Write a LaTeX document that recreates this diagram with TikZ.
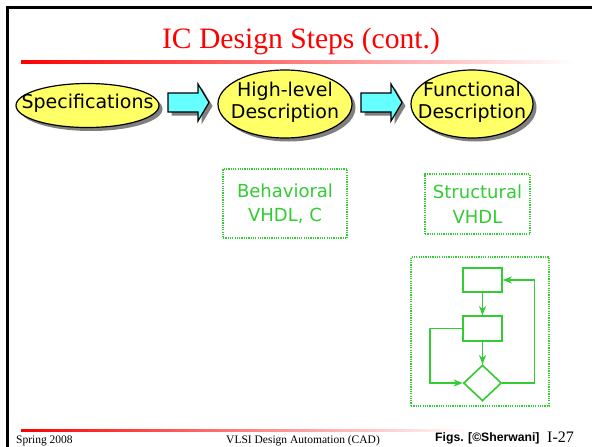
\documentclass[tikz,border=0pt]{standalone}
\usepackage{fontspec}
\setmainfont{Liberation Serif}
\newfontfamily\labelfont{DejaVu Sans}
\newfontfamily\figsfont{Liberation Sans}
\usetikzlibrary{shapes.geometric,arrows.meta,shadows}

\definecolor{titlered}{RGB}{255,0,0}
\definecolor{bubble}{RGB}{255,255,102}
\definecolor{arrowcyan}{RGB}{102,255,255}
\definecolor{flowgreen}{RGB}{51,204,51}
\definecolor{shadowgray}{RGB}{128,128,128}

% wide cyan block arrow centred on a coordinate, with its grey shadow
\newcommand\blockarrow[1]{%
  \fill[shadowgray, shift={(#1)}, shift={(3.5,3.5)}]
    (-20.5,-9.5) -- (9.5,-9.5) -- (9.5,-18.5) -- (20.5,0) -- (9.5,18.5) -- (9.5,9.5) -- (-20.5,9.5) -- cycle;
  \draw[fill=arrowcyan, line width=1.2pt, line join=miter, shift={(#1)}]
    (-20.5,-9.5) -- (9.5,-9.5) -- (9.5,-18.5) -- (20.5,0) -- (9.5,18.5) -- (9.5,9.5) -- (-20.5,9.5) -- cycle;}

\begin{document}
\begin{tikzpicture}[x=1pt, y=-1pt,
  stage/.style={ellipse, draw=black, line width=1.2pt, fill=bubble, inner sep=0pt,
    drop shadow={shadow xshift=3.5pt, shadow yshift=-3.5pt, fill=shadowgray, opacity=1}},
  stagetext/.style={align=center, inner sep=0pt, font=\labelfont\fontsize{19}{22}\selectfont},
  notebox/.style={draw=flowgreen, line width=1.5pt, dash pattern=on 1.2pt off 1.1pt,
    text=flowgreen, align=center, inner sep=0pt, font=\labelfont\fontsize{18}{24.5}\selectfont},
  flowbox/.style={rectangle, draw=flowgreen, line width=1.6pt, inner sep=0pt, minimum width=39pt},
  flowedge/.style={draw=flowgreen, line width=1.6pt, -{Stealth[length=9pt,width=7pt,inset=2.5pt]}},
  footer/.style={anchor=base west, inner sep=0pt, font=\fontsize{11.5}{13}\selectfont},
]
\useasboundingbox (0,0) rectangle (592,447);
\clip (0,0) rectangle (592,447);
\fill[white] (0,0) rectangle (592,447);

% slide frame
\draw[line width=2.5pt, line join=miter] (7.5,447) -- (7.5,7.5) -- (592,7.5);

% title and rules
\node[anchor=base, inner sep=0pt, text=titlered, font=\fontsize{29.6}{32}\selectfont] (title) at (301,48) {IC Design Steps (cont.)};
\shade[left color=titlered, right color=white] (21,60) rectangle (575,63.5);
\shade[left color=titlered, right color=white] (21,429) rectangle (470,431.5);

% design stages
\node[stage, minimum width=143pt, minimum height=44pt] (spec) at (87.5,105.5) {};
\node[stage, minimum width=134pt, minimum height=68pt] (hl) at (285,104) {};
\node[stage, minimum width=122pt, minimum height=68pt] (fd) at (472,104) {};
\node[stagetext] (specT) at (87.5,103) {Specifications};
\node[stagetext] (hlT) at (285,102.5) {High-level\\Description};
\node[stagetext] (fdT) at (472,102.5) {Functional\\Description};

\coordinate (a1) at (188.5,102.5);
\coordinate (a2) at (381.5,102.5);
\blockarrow{a1}
\blockarrow{a2}

% representations
\node[notebox, minimum width=124pt, minimum height=69pt] (behav) at (285,203.5) {Behavioral\\VHDL, C};
\node[notebox, minimum width=105pt, minimum height=60pt] (struct) at (477.5,204) {Structural\\VHDL};

% small flowchart
\node[draw=flowgreen, line width=1.5pt, dash pattern=on 1.2pt off 1.1pt, minimum width=138pt, minimum height=149pt, inner sep=0pt] (flowframe) at (480,331.5) {};
\node[flowbox, minimum height=24pt] (r1) at (482.5,280) {};
\node[flowbox, minimum height=25pt] (r2) at (482.5,328.5) {};
\node[diamond, draw=flowgreen, line width=1.6pt, minimum width=38pt, minimum height=36pt, inner sep=0pt] (dec) at (482.5,383) {};
\draw[flowedge] (r1.south) -- (r2.north);
\draw[flowedge] (r2.south) -- (dec.north);
\draw[flowedge] (r2.west) -- ++(-32,0) |- (dec.west);
\draw[flowedge] (dec.east) -- ++(32,0) |- (r1.east);

% footer
\node[footer] (season) at (16,443) {Spring 2008};
\node[footer] (course) at (226,443) {VLSI Design Automation (CAD)};
\node[anchor=base west, inner sep=0pt, font=\figsfont\bfseries\fontsize{12.2}{14}\selectfont] (credit) at (435,441) {Figs. [©Sherwani]};
\node[anchor=base west, inner sep=0pt, font=\fontsize{16}{18}\selectfont] (pageno) at (547,442) {I-27};
\end{tikzpicture}
\end{document}
